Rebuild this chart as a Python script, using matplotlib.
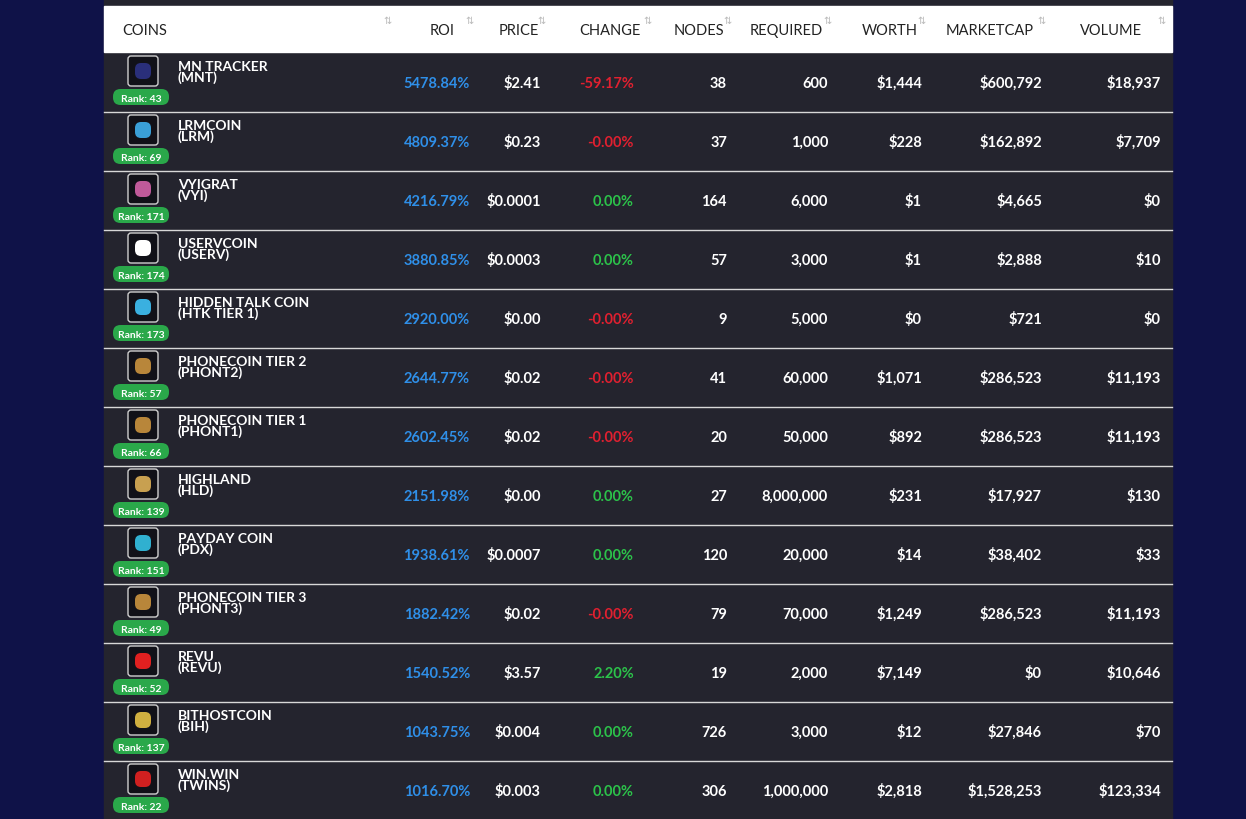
import matplotlib.pyplot as plt
from matplotlib.patches import FancyBboxPatch, Rectangle

coins = ["MN TRACKER", "LRMCOIN", "VYIGRAT", "USERVCOIN", "HIDDEN TALK COIN",
         "PHONECOIN TIER 2", "PHONECOIN TIER 1", "HIGHLAND", "PAYDAY COIN",
         "PHONECOIN TIER 3", "REVU", "BITHOSTCOIN", "WIN.WIN"]
tickers = ["MNT", "LRM", "VYI", "USERV", "HTK TIER 1", "PHONT2", "PHONT1",
           "HLD", "PDX", "PHONT3", "REVU", "BIH", "TWINS"]
ranks = [43, 69, 171, 174, 173, 57, 66, 139, 151, 49, 52, 137, 22]
roi = ["5478.84%", "4809.37%", "4216.79%", "3880.85%", "2920.00%", "2644.77%",
       "2602.45%", "2151.98%", "1938.61%", "1882.42%", "1540.52%", "1043.75%", "1016.70%"]
price = ["$2.41", "$0.23", "$0.0001", "$0.0003", "$0.00", "$0.02", "$0.02",
         "$0.00", "$0.0007", "$0.02", "$3.57", "$0.004", "$0.003"]
change = ["-59.17%", "-0.00%", "0.00%", "0.00%", "-0.00%", "-0.00%", "-0.00%",
          "0.00%", "0.00%", "-0.00%", "2.20%", "0.00%", "0.00%"]
nodes = ["38", "37", "164", "57", "9", "41", "20", "27", "120", "79", "19", "726", "306"]
required = ["600", "1,000", "6,000", "3,000", "5,000", "60,000", "50,000",
            "8,000,000", "20,000", "70,000", "2,000", "3,000", "1,000,000"]
worth = ["$1,444", "$228", "$1", "$1", "$0", "$1,071", "$892", "$231", "$14",
         "$1,249", "$7,149", "$12", "$2,818"]
marketcap = ["$600,792", "$162,892", "$4,665", "$2,888", "$721", "$286,523",
             "$286,523", "$17,927", "$38,402", "$286,523", "$0", "$27,846", "$1,528,253"]
volume = ["$18,937", "$7,709", "$0", "$10", "$0", "$11,193", "$11,193", "$130",
          "$33", "$11,193", "$10,646", "$70", "$123,334"]
icon_colors = ["#2a2f7a", "#3aa0d8", "#c05a9a", "#ffffff", "#3ab0e0", "#b8863a",
               "#b8863a", "#c8a050", "#30b0d0", "#b8863a", "#e02020", "#d0b040", "#d02020"]

headers = ["ROI", "PRICE", "CHANGE", "NODES", "REQUIRED", "WORTH", "MARKETCAP", "VOLUME"]
header_x = [455, 539, 641, 724, 823, 918, 1034, 1142]
arrow_x = [470, 541, 648, 727, 828, 922, 1042, 1161]
col_x = [470, 541, 634, 727, 828, 922, 1042, 1161]
columns = [roi, price, change, nodes, required, worth, marketcap, volume]

W, H = 1246, 820
fig = plt.figure(figsize=(W / 100, H / 100), dpi=100)
fig.patch.set_facecolor("#0f1248")
ax = fig.add_axes([0, 0, 1, 1])
ax.set_xlim(0, W)
ax.set_ylim(H, 0)
ax.axis("off")
font = "Lato"

left, right = 104, 1172
ax.add_patch(Rectangle((left, 0), right - left, H, color="#24242e"))
ax.add_patch(Rectangle((left, 7), right - left, 46, color="white"))
ax.text(122, 35, "COINS", fontsize=10.5, family=font, color="#222", va="baseline")
for hx, h in zip(header_x, headers):
    ax.text(hx, 35, h, fontsize=10.5, family=font, color="#222", va="baseline", ha="right")
for axx in [388] + arrow_x:
    ax.text(axx, 21, "⇅", fontsize=7, color="#bbbbbb", va="center", ha="center",
            family="DejaVu Sans")

row_h = 59
top = 54
for i in range(len(coins)):
    y0 = top + i * row_h
    yb = y0 + 34
    if i > 0:
        ax.plot([left, right], [y0, y0], color="#d8d8d8", lw=1)
    ax.add_patch(FancyBboxPatch((128, y0 + 3), 30, 30, boxstyle="round,pad=0,rounding_size=3",
                                fc="#111118", ec="#cfcfcf", lw=1))
    ax.add_patch(FancyBboxPatch((135, y0 + 10), 16, 16, boxstyle="round,pad=0,rounding_size=6",
                                fc=icon_colors[i], ec="none"))
    ax.add_patch(FancyBboxPatch((113, y0 + 36), 56, 16, boxstyle="round,pad=0,rounding_size=7.5",
                                fc="#2aa84a", ec="none"))
    ax.text(141, y0 + 48, f"Rank: {ranks[i]}", fontsize=7.5, family=font, color="white",
            ha="center", va="baseline", weight="bold")
    ax.text(178, y0 + 17, coins[i], fontsize=10, family=font, color="white",
            va="baseline", weight="bold")
    ax.text(178, y0 + 28, f"({tickers[i]})", fontsize=10, family=font, color="white",
            va="baseline", weight="bold")
    for j, (cx, col) in enumerate(zip(col_x, columns)):
        val = col[i]
        color = "white"
        if j == 0:
            color = "#2f8fe8"
        elif j == 2:
            color = "#e02030" if val.startswith("-") else "#2cc24a"
        ax.text(cx, yb, val, fontsize=10.5, family=font, color=color, ha="right",
                va="baseline", weight="bold")

fig.savefig("out.png", dpi=100, facecolor=fig.get_facecolor())
